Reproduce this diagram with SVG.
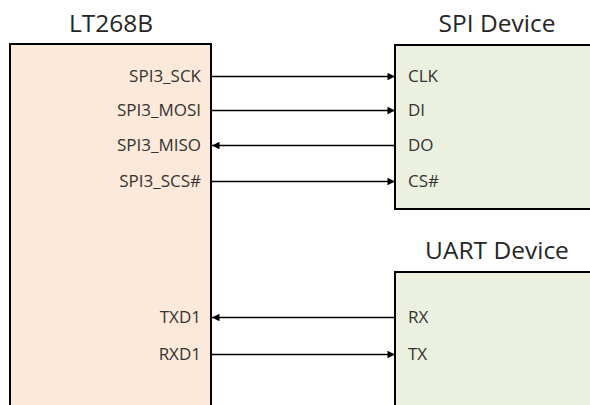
<svg xmlns="http://www.w3.org/2000/svg" width="590" height="405" viewBox="0 0 590 405">
<style>
.title{font-family:"Open Sans","Liberation Sans",sans-serif;font-size:24.5px;fill:#262626;text-anchor:middle}
.pin{font-family:"Open Sans","Liberation Sans",sans-serif;font-size:17px;fill:#333333}
.pinr{text-anchor:end}
.box{stroke:#000;stroke-width:2}
.wire{stroke:#000;stroke-width:1.5;fill:none}
</style>
<defs>
<marker id="arr" viewBox="0 0 10 10" refX="10" refY="5" markerWidth="6" markerHeight="5" markerUnits="strokeWidth" orient="auto">
<path d="M0,0 L10,5 L0,10 z" fill="#000"/>
</marker>
</defs>
<rect width="590" height="405" fill="#ffffff"/>
<g id="lt268b">
<text class="title" x="111" y="32">LT268B</text>
<rect class="box" x="10" y="44" width="201" height="380" fill="#FDE9D9"/>
<text class="pin pinr" x="201" y="82">SPI3_SCK</text>
<text class="pin pinr" x="201" y="116">SPI3_MOSI</text>
<text class="pin pinr" x="201" y="151">SPI3_MISO</text>
<text class="pin pinr" x="201" y="187">SPI3_SCS#</text>
<text class="pin pinr" x="201" y="323">TXD1</text>
<text class="pin pinr" x="201" y="360">RXD1</text>
</g>
<g id="spi-device">
<text class="title" x="497" y="32">SPI Device</text>
<rect class="box" x="395" y="45" width="210" height="164" fill="#EBF1DE"/>
<text class="pin" x="408" y="82">CLK</text>
<text class="pin" x="408" y="116">DI</text>
<text class="pin" x="408" y="151">DO</text>
<text class="pin" x="408" y="187">CS#</text>
</g>
<g id="uart-device">
<text class="title" x="497" y="259">UART Device</text>
<rect class="box" x="395" y="272" width="210" height="150" fill="#EBF1DE"/>
<text class="pin" x="408" y="323">RX</text>
<text class="pin" x="408" y="360">TX</text>
</g>
<g id="connectors">
<line class="wire" x1="212" y1="76.5" x2="395" y2="76.5" marker-end="url(#arr)"/>
<line class="wire" x1="212" y1="110.5" x2="395" y2="110.5" marker-end="url(#arr)"/>
<line class="wire" x1="395" y1="145.5" x2="212" y2="145.5" marker-end="url(#arr)"/>
<line class="wire" x1="212" y1="181.5" x2="395" y2="181.5" marker-end="url(#arr)"/>
<line class="wire" x1="395" y1="317.5" x2="212" y2="317.5" marker-end="url(#arr)"/>
<line class="wire" x1="212" y1="354.5" x2="395" y2="354.5" marker-end="url(#arr)"/>
</g>
</svg>
